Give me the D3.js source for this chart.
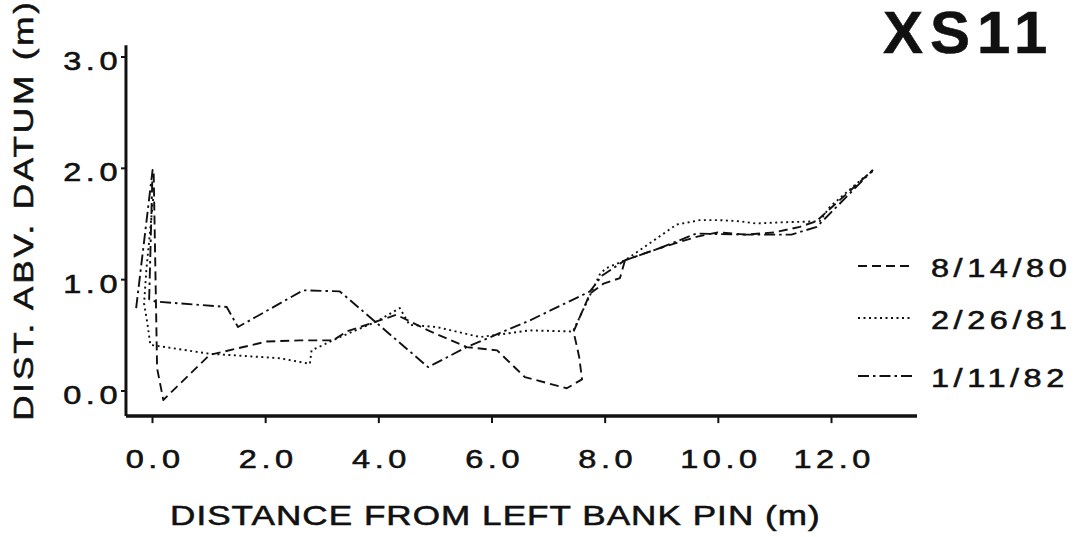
<!DOCTYPE html>
<html><head><meta charset="utf-8">
<script src="https://cdn.jsdelivr.net/npm/d3@7"></script>
<style>
body{margin:0;background:#fff}
svg{display:block}
text{font-family:"Liberation Sans",Arial,sans-serif;fill:#111;stroke:#111;stroke-width:0.55px}
</style>
</head><body>
<svg id="chart" width="1076" height="537"></svg>
<script>
// ---- data ----
const chartTitle = "XS11";
const xTitle = "DISTANCE FROM LEFT BANK PIN (m)";
const yTitle = "DIST. ABV. DATUM (m)";
const xTicks = [0, 2, 4, 6, 8, 10, 12];
const xTickLabels = ["0.0", "2.0", "4.0", "6.0", "8.0", "10.0", "12.0"];
const yTicks = [0, 1, 2, 3];
const yTickLabels = ["0.0", "1.0", "2.0", "3.0"];
const seriesNames = ["8/14/80", "2/26/81", "1/11/82"];

const dist1980 = [0.03, 0.09, 0.2, 1.02, 2.03, 2.61, 3.2, 3.44, 3.97, 4.32, 4.88, 5.56, 6.1, 6.59, 7.33, 7.6, 7.55, 7.45, 7.74, 7.98, 8.27, 8.36, 8.98, 9.62, 10.0, 10.5, 11.0, 11.45, 11.74, 12.74];
const elev1980 = [1.95, 0.2, -0.085, 0.32, 0.44, 0.45, 0.45, 0.53, 0.62, 0.68, 0.54, 0.39, 0.36, 0.12, 0.02, 0.10, 0.30, 0.53, 0.87, 0.96, 1.01, 1.17, 1.28, 1.38, 1.42, 1.40, 1.42, 1.47, 1.52, 1.98];

const dist1981 = [0.02, -0.1, -0.14, -0.08, -0.03, 1.02, 2.26, 2.79, 2.82, 3.32, 3.97, 4.38, 4.55, 5.03, 5.8, 6.68, 7.44, 7.92, 8.03, 8.36, 8.62, 9.27, 9.68, 10.04, 10.39, 10.68, 11.1, 11.8, 11.98, 12.57, 12.74];
const elev1981 = [1.72, 1.08, 0.78, 0.6, 0.41, 0.33, 0.29, 0.24, 0.36, 0.48, 0.62, 0.74, 0.59, 0.57, 0.48, 0.54, 0.53, 1.05, 1.10, 1.17, 1.26, 1.49, 1.53, 1.53, 1.52, 1.50, 1.51, 1.52, 1.65, 1.91, 1.97];

const dist1982 = [-0.28, 0.01, -0.05, 0.05, 1.32, 1.52, 2.67, 3.32, 4.88, 5.56, 6.68, 7.74, 7.95, 8.36, 8.98, 9.62, 10.5, 11.3, 11.75, 12.74];
const elev1982 = [0.74, 1.98, 0.82, 0.80, 0.75, 0.57, 0.90, 0.89, 0.21, 0.39, 0.63, 0.89, 1.03, 1.17, 1.28, 1.41, 1.40, 1.40, 1.47, 1.98];

// ---- drawing ----
const series = [
  {name: seriesNames[0], pts: d3.zip(dist1980, elev1980), dash: "9,5"},
  {name: seriesNames[1], pts: d3.zip(dist1981, elev1981), dash: "2,3.5"},
  {name: seriesNames[2], pts: d3.zip(dist1982, elev1982), dash: "11,4,2.5,4"}
];

const svg = d3.select("#chart");
const x = d3.scaleLinear().domain([0, 12]).range([152, 831]);
const y = d3.scaleLinear().domain([0, 3]).range([390.5, 56.5]);
const xAxisExtent = [-0.46, 13.52];
const yAxisExtent = [-0.23, 3.1];
const SX = 1.3;

// x axis ticks
const gx = svg.append("g").attr("transform", `translate(0,${y(yAxisExtent[0])})`)
  .call(d3.axisBottom(x).tickValues(xTicks).tickSize(7).tickFormat((d, i) => xTickLabels[i]));
gx.select(".domain").remove();
gx.selectAll(".tick line").attr("stroke", "#111").attr("stroke-width", 2);
gx.selectAll(".tick text")
  .attr("y", 52).attr("dy", 0).attr("dx", 2)
  .attr("transform", `scale(${SX},1)`)
  .style("font-size", "25px").style("letter-spacing", "3.5px").attr("fill", "#111");

// y axis ticks
const gy = svg.append("g").attr("transform", `translate(${x(xAxisExtent[0])},0)`)
  .call(d3.axisLeft(y).tickValues(yTicks).tickSize(5).tickFormat((d, i) => yTickLabels[i]));
gy.select(".domain").remove();
gy.selectAll(".tick line").attr("stroke", "#111").attr("stroke-width", 2);
gy.selectAll(".tick text")
  .attr("x", -3).attr("dy", "0.52em")
  .attr("transform", `scale(${SX},1)`)
  .style("font-size", "25px").style("letter-spacing", "3.5px").attr("fill", "#111");

// axis lines
svg.append("line")
  .attr("x1", x(xAxisExtent[0])).attr("x2", x(xAxisExtent[1]))
  .attr("y1", y(yAxisExtent[0])).attr("y2", y(yAxisExtent[0]))
  .attr("stroke", "#111").attr("stroke-width", 3.5);
svg.append("line")
  .attr("x1", x(xAxisExtent[0])).attr("x2", x(xAxisExtent[0]))
  .attr("y1", y(yAxisExtent[0])).attr("y2", y(yAxisExtent[1]))
  .attr("stroke", "#111").attr("stroke-width", 3);

// series lines
const line = d3.line().x(d => x(d[0])).y(d => y(d[1]));
svg.append("g").selectAll("path").data(series).join("path")
  .attr("d", d => line(d.pts))
  .attr("fill", "none").attr("stroke", "#111").attr("stroke-width", 1.9)
  .attr("stroke-dasharray", d => d.dash)
  .attr("stroke-linejoin", "round");

// legend
const legendBaselines = [277, 329, 387];
const lg = svg.append("g").selectAll("g").data(series).join("g")
  .attr("transform", (d, i) => `translate(0,${legendBaselines[i]})`);
lg.append("line").attr("x1", 858).attr("x2", 913).attr("y1", -11).attr("y2", -11)
  .attr("stroke", "#111").attr("stroke-width", 1.9).attr("stroke-dasharray", d => d.dash);
lg.append("text").attr("transform", `translate(931,0) scale(${SX},1)`)
  .style("font-size", "25px").style("letter-spacing", "3.5px").text(d => d.name);

// titles
svg.append("text").attr("transform", `translate(170,525) scale(${SX},1)`)
  .style("font-size", "27px").style("letter-spacing", "0.8px").text(xTitle);
svg.append("text").attr("transform", `translate(33,210) rotate(-90) scale(${SX},1)`)
  .attr("text-anchor", "middle")
  .style("font-size", "27px").style("letter-spacing", "2.2px").text(yTitle);
svg.append("text").attr("x", 883).attr("y", 53)
  .style("font-size", "60px").style("font-weight", "bold").style("letter-spacing", "7px").text(chartTitle);
</script>
</body></html>
